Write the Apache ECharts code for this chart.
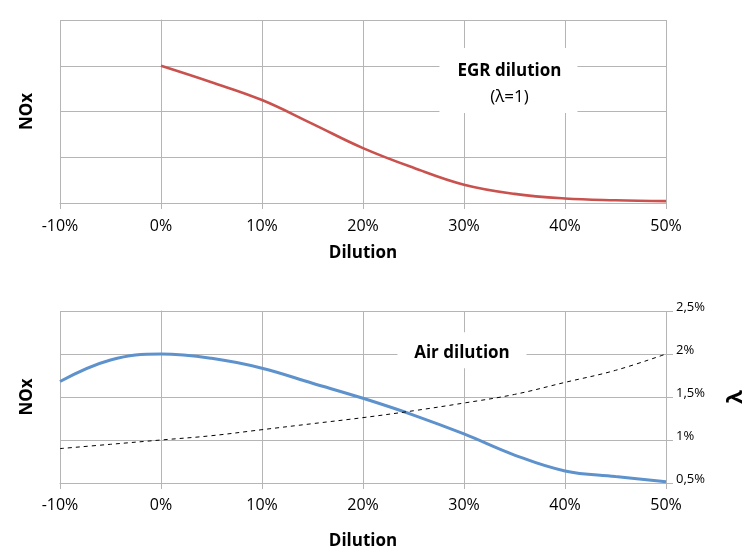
<!DOCTYPE html>
<html>
<head>
<meta charset="utf-8">
<script src="https://cdn.jsdelivr.net/npm/echarts@6/dist/echarts.min.js"></script>
<style>html,body{margin:0;padding:0;background:#fff}#c{width:750px;height:552px}</style>
</head>
<body>
<div id="c"></div>
<script>
// ---- data ----
const dilutionEGR = [0, 5, 10, 15, 20, 25, 30, 35, 40, 45, 50];
const noxEGR = [3.0, 2.64, 2.25, 1.73, 1.2, 0.77, 0.4, 0.2, 0.1, 0.06, 0.04];
const dilutionAir = [-10, -5, 0, 5, 10, 15, 20, 25, 30, 35, 40, 45, 50];
const noxAir = [2.36, 2.86, 3.0, 2.9, 2.67, 2.32, 1.97, 1.58, 1.14, 0.65, 0.28, 0.15, 0.03];
const lambdaAir = [0.9, 0.95, 1.0, 1.05, 1.12, 1.19, 1.26, 1.34, 1.43, 1.53, 1.67, 1.81, 2.0];
const xTickFormat = v => v + '%';
const lambdaTickFormat = v => String(v).replace('.', ',') + '%';
const egrLabel = ['EGR dilution', '(λ=1)'];
const airLabel = 'Air dilution';
const egrLabelAt = [34.4, 2.68];
const airLabelAt = [29.8, 3.09];

const FONT = 'Open Sans';
const GRID = '#b5b5b5';
const pairs = (xs, ys) => xs.map((x, i) => [x, ys[i]]);

function xAxis(gridIndex, nameGap, margin) {
  return {
    type: 'value', gridIndex, min: -10, max: 50, interval: 10,
    name: 'Dilution', nameLocation: 'middle', nameGap,
    nameTextStyle: { fontFamily: FONT, fontWeight: 'bold', fontSize: 17, color: '#000' },
    axisLine: { show: true, lineStyle: { color: GRID, width: 1 } },
    axisTick: { show: true, length: 6, lineStyle: { color: GRID } },
    axisLabel: { formatter: xTickFormat, fontFamily: FONT, fontSize: 16, color: '#000', margin },
    splitLine: { show: true, lineStyle: { color: GRID, width: 1 } }
  };
}
function noxAxis(gridIndex) {
  return {
    type: 'value', gridIndex, min: 0, max: 4, interval: 1,
    name: 'NOx', nameLocation: 'middle', nameGap: 24, nameRotate: 90,
    nameTextStyle: { fontFamily: FONT, fontWeight: 'bold', fontSize: 17, color: '#000' },
    axisLine: { show: true, lineStyle: { color: GRID, width: 1 } },
    axisTick: { show: false },
    axisLabel: { show: false },
    splitLine: { show: true, lineStyle: { color: GRID, width: 1 } }
  };
}

const option = {
  animation: false,
  backgroundColor: '#fff',
  grid: [
    { left: 60, top: 20, width: 606, height: 183, outerBoundsMode: 'none', containLabel: false },
    { left: 60, top: 311, width: 606, height: 172, outerBoundsMode: 'none', containLabel: false }
  ],
  xAxis: [xAxis(0, 42, 15), xAxis(1, 50, 14)],
  yAxis: [
    noxAxis(0),
    noxAxis(1),
    {
      type: 'value', gridIndex: 1, position: 'right', min: 0.5, max: 2.5, interval: 0.5,
      name: 'λ', nameLocation: 'middle', nameGap: 59, nameRotate: 90,
      nameTextStyle: { fontFamily: FONT, fontWeight: 'bold', fontSize: 22, color: '#000' },
      axisLine: { show: false },
      axisTick: { show: true, length: 7, lineStyle: { color: GRID } },
      axisLabel: { formatter: lambdaTickFormat, fontFamily: FONT, fontSize: 13, color: '#000', margin: 10, verticalAlign: 'bottom', lineHeight: 8 },
      splitLine: { show: false }
    }
  ],
  series: [
    {
      type: 'line', xAxisIndex: 0, yAxisIndex: 0, data: pairs(dilutionEGR, noxEGR),
      smooth: 0.4, showSymbol: false, lineStyle: { color: '#c9524e', width: 2.6 },
      markPoint: {
        silent: true, symbol: 'rect', symbolSize: [138, 65],
        itemStyle: { color: '#fff' },
        label: { show: true, position: 'inside', offset: [1, 4], fontFamily: FONT, color: '#000',
          formatter: '{b|' + egrLabel[0] + '}\n{n|' + egrLabel[1] + '}',
          rich: { b: { fontWeight: 'bold', fontSize: 17, lineHeight: 26, fontFamily: FONT }, n: { fontSize: 17, lineHeight: 26, fontFamily: FONT } } },
        data: [{ coord: egrLabelAt }]
      }
    },
    {
      type: 'line', xAxisIndex: 1, yAxisIndex: 1, data: pairs(dilutionAir, noxAir),
      smooth: 0.4, showSymbol: false, lineStyle: { color: '#5e92cd', width: 3 },
      markPoint: {
        silent: true, symbol: 'rect', symbolSize: [129, 36],
        itemStyle: { color: '#fff' },
        label: { show: true, position: 'inside', offset: [0, 3], fontFamily: FONT, fontWeight: 'bold', fontSize: 17, color: '#000', formatter: airLabel },
        data: [{ coord: airLabelAt }]
      }
    },
    {
      type: 'line', xAxisIndex: 1, yAxisIndex: 2, data: pairs(dilutionAir, lambdaAir),
      smooth: 0.4, showSymbol: false, lineStyle: { color: '#000', width: 1, type: [4, 4] }
    }
  ]
};
const chart = echarts.init(document.getElementById('c'), null, { renderer: 'canvas' });
chart.setOption(option);
</script>
</body>
</html>
